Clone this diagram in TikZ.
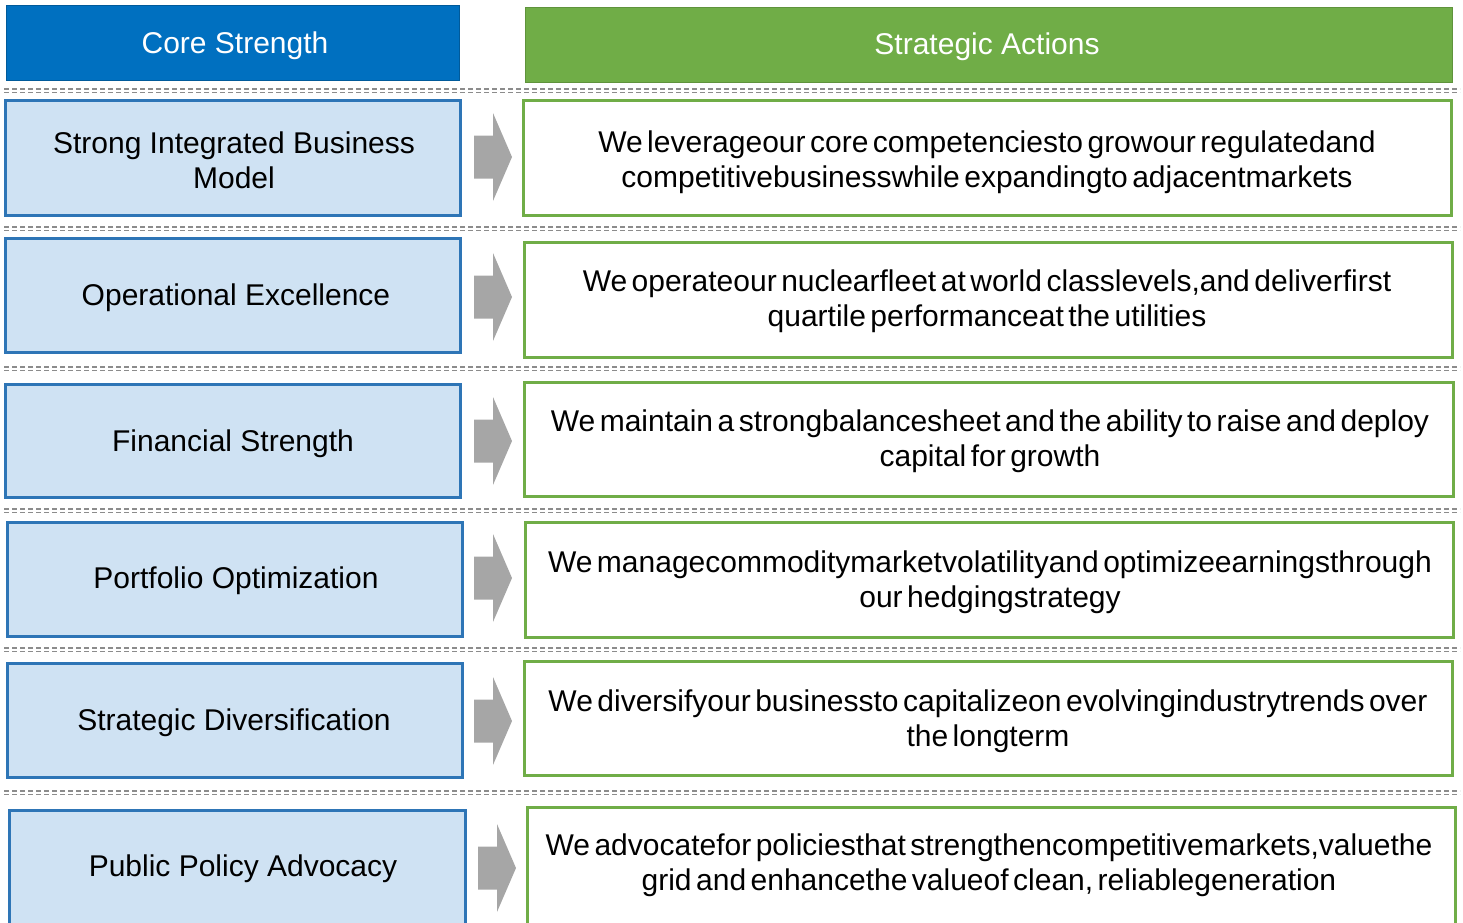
\documentclass[tikz,border=0pt]{standalone}
\usepackage{fontspec}
\setmainfont{Liberation Sans}

\definecolor{coreblue}{RGB}{0,112,192}
\definecolor{actgreen}{RGB}{112,173,71}
\definecolor{paleblue}{RGB}{207,226,243}
\definecolor{edgeblue}{RGB}{46,117,182}
\definecolor{arrgray}{RGB}{166,166,166}
\definecolor{sepgray}{RGB}{140,140,140}

\newcommand{\tightwords}{\setlength{\spaceskip}{0.15em}}

\tikzset{
  corebox/.style={fill=paleblue, draw=edgeblue, line width=2.25pt},
  actbox/.style={fill=white, draw=actgreen, line width=2.25pt},
  boxtext/.style={align=center, inner sep=0pt, font=\fontsize{22.5}{26.5}\selectfont},
  tighttext/.style={boxtext, execute at begin node=\tightwords},
  septrack/.style={draw=sepgray, line width=0.9pt, dash pattern=on 4pt off 2pt},
  blockarrow/.style={fill=arrgray}
}

\begin{document}
\begin{tikzpicture}[x=0.75pt,y=0.75pt,yscale=-1,xscale=1]
\clip (0,0) rectangle (1463,922);
\useasboundingbox (0,0) rectangle (1463,922);

% column headers
\draw [fill=coreblue, draw=coreblue!80!black, line width=0.75pt] (6,5) rectangle (459,80);
\node [boxtext, text=white] (hcore) at (235,46) {Core Strength};
\draw [fill=actgreen, draw=actgreen!85!black, line width=0.75pt] (525,7) rectangle (1452,82);
\node [boxtext, text=white] (hact) at (987,47) {Strategic Actions};

% dashed double rules between the rows
\foreach \y in {89,227,367,509,648,791} {
  \draw [septrack] (4,\y) -- (1460,\y);
  \draw [septrack] (4,\y+3.5) -- (1460,\y+3.5);
}

% left column
\draw [corebox] (5,100) rectangle (460,215);
\node [boxtext] (core1) at (234,160) {Strong Integrated Business\\Model};
\draw [corebox] (5,238) rectangle (460,352);
\node [boxtext] (core2) at (236,298) {Operational Excellence};
\draw [corebox] (5,384) rectangle (460,497);
\node [boxtext] (core3) at (233,444) {Financial Strength};
\draw [corebox] (7,522) rectangle (462,636);
\node [boxtext] (core4) at (236,581) {Portfolio Optimization};
\draw [corebox] (7,663) rectangle (462,777);
\node [boxtext] (core5) at (234,723) {Strategic Diversification};
\draw [corebox] (9,810) rectangle (465,940);
\node [boxtext] (core6) at (243,869) {Public Policy Advocacy};

% right column
\draw [actbox] (523,100) rectangle (1451,215);
\node [tighttext] (act1) at (987,162) {We leverageour core competenciesto growour regulatedand\\competitivebusinesswhile expandingto adjacentmarkets};
\draw [actbox] (524,242) rectangle (1452,357);
\node [tighttext] (act2) at (987,301) {We operateour nuclearfleet at world classlevels,and deliverfirst\\quartile performanceat the utilities};
\draw [actbox] (524,382) rectangle (1453,496);
\node [tighttext] (act3) at (990,441) {We maintain a strongbalancesheet and the ability to raise and deploy\\capital for growth};
\draw [actbox] (525,522) rectangle (1453,637);
\node [tighttext] (act4) at (990,582) {We managecommoditymarketvolatilityand optimizeearningsthrough\\our hedgingstrategy};
\draw [actbox] (524,661) rectangle (1452,775);
\node [tighttext] (act5) at (988,721) {We diversifyour businessto capitalizeon evolvingindustrytrends over\\the longterm};
\draw [actbox] (527,807) rectangle (1455,940);
\node [tighttext] (act6) at (989,865) {We advocatefor policiesthat strengthencompetitivemarkets,valuethe\\grid and enhancethe valueof clean, reliablegeneration};

% block arrows
\foreach \x/\y in {474/157,474/297,474/441,474/578,474/721,478/868} {
  \fill [blockarrow] (\x,\y-21.5) -- (\x+19,\y-21.5) -- (\x+19,\y-44) -- (\x+38,\y)
    -- (\x+19,\y+44) -- (\x+19,\y+21.5) -- (\x,\y+21.5) -- cycle;
}

\end{tikzpicture}
\end{document}
